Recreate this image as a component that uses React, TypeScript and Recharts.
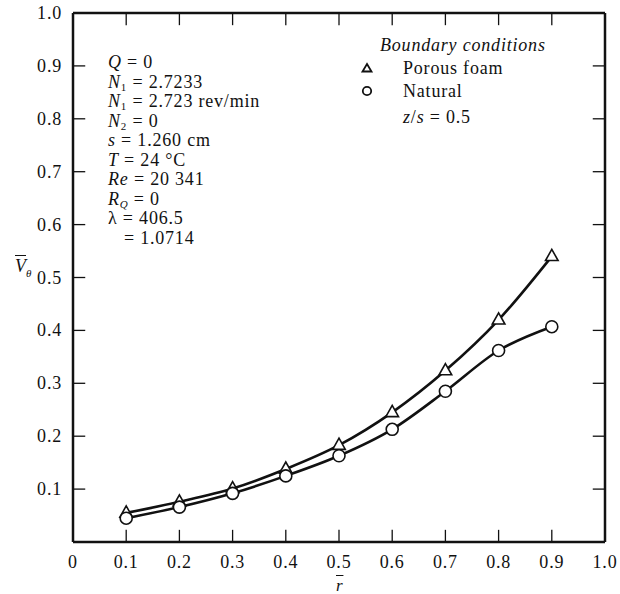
import { ComposedChart, Line, ReferenceLine, XAxis, YAxis } from "recharts";

const R = [0.1, 0.2, 0.3, 0.4, 0.5, 0.6, 0.7, 0.8, 0.9];
const FOAM = [0.055, 0.076, 0.101, 0.138, 0.183, 0.245, 0.324, 0.42, 0.54];
const NATURAL = [0.045, 0.066, 0.092, 0.125, 0.163, 0.213, 0.285, 0.362, 0.407];
const X_TICKS = [0, 0.1, 0.2, 0.3, 0.4, 0.5, 0.6, 0.7, 0.8, 0.9, 1.0];
const Y_TICKS = [0.1, 0.2, 0.3, 0.4, 0.5, 0.6, 0.7, 0.8, 0.9, 1.0];
const INNER_TICKS = [0.1, 0.2, 0.3, 0.4, 0.5, 0.6, 0.7, 0.8, 0.9];

const data = R.map((r, i) => ({ r, foam: FOAM[i], natural: NATURAL[i] }));

const FONT = "'Liberation Serif', 'DejaVu Serif', serif";
const INK = "#111";
// inward tick length, in axis units (about 12px on this plot)
const TICK_LEN = 0.023;

const fmt = (v: number) => v.toFixed(v === 0 ? 0 : 1);

function BottomLabel({ x, y, payload }: any) {
  return (
    <text x={x} y={y + 26} textAnchor="middle" fontFamily={FONT} fontSize={18} letterSpacing={0.8} fill={INK}>
      {fmt(payload.value)}
    </text>
  );
}

function LeftLabel({ x, y, payload }: any) {
  return (
    <text x={x - 11} y={y + 6} textAnchor="end" fontFamily={FONT} fontSize={18} letterSpacing={0.8} fill={INK}>
      {fmt(payload.value)}
    </text>
  );
}

function Triangle({ cx, cy }: any) {
  if (cx == null || cy == null) return <g />;
  const s = 7;
  return (
    <path
      d={`M${cx},${cy - s} L${cx + s * 0.9},${cy + s * 0.6} L${cx - s * 0.9},${cy + s * 0.6} Z`}
      fill="#fff"
      stroke={INK}
      strokeWidth={1.6}
    />
  );
}

function Circle({ cx, cy }: any) {
  if (cx == null || cy == null) return <g />;
  return <circle cx={cx} cy={cy} r={6} fill="#fff" stroke={INK} strokeWidth={1.6} />;
}

const Sub = ({ children }: any) => (
  <span style={{ fontSize: 11, position: "relative", top: 3, lineHeight: 0 }}>{children}</span>
);

const textBlock = [
  <><i>Q</i> = 0</>,
  <><i>N</i><Sub>1</Sub> = 2.7233</>,
  <><i>N</i><Sub>1</Sub> = 2.723 rev/min</>,
  <><i>N</i><Sub>2</Sub> = 0</>,
  <><i>s</i> = 1.260 cm</>,
  <><i>T</i> = 24 °C</>,
  <><i>Re</i> = 20 341</>,
  <><i>R</i><Sub><i>Q</i></Sub> = 0</>,
  <>λ = 406.5</>,
  <>&nbsp;&nbsp;&nbsp;= 1.0714</>,
];

const abs = (left: number, top: number): React.CSSProperties => ({
  position: "absolute",
  left,
  top,
  fontFamily: FONT,
  fontSize: 18,
  letterSpacing: 0.8,
  lineHeight: "20px",
  color: INK,
  whiteSpace: "nowrap",
});

const axisLine = { stroke: INK, strokeWidth: 2.5 };

export default function App() {
  return (
    <div style={{ position: "absolute", left: 0, top: 0, width: 620, height: 594, background: "#fff" }}>
      <ComposedChart
        width={620}
        height={594}
        data={data}
        margin={{ top: 12, right: 14, left: 0, bottom: 0 }}
      >
        <XAxis
          xAxisId="b"
          dataKey="r"
          type="number"
          domain={[0, 1]}
          ticks={X_TICKS}
          height={52}
          tickSize={0}
          tickMargin={0}
          tickLine={false}
          axisLine={axisLine}
          tick={(p: any) => <BottomLabel {...p} />}
        />
        <XAxis
          xAxisId="t"
          orientation="top"
          dataKey="r"
          type="number"
          domain={[0, 1]}
          height={1}
          tickLine={false}
          axisLine={axisLine}
          tick={false}
        />
        <YAxis
          yAxisId="l"
          type="number"
          domain={[0, 1]}
          ticks={Y_TICKS}
          width={73}
          tickSize={0}
          tickMargin={0}
          tickLine={false}
          axisLine={axisLine}
          tick={(p: any) => <LeftLabel {...p} />}
        />
        <YAxis
          yAxisId="rt"
          orientation="right"
          type="number"
          domain={[0, 1]}
          width={1}
          tickLine={false}
          axisLine={axisLine}
          tick={false}
        />
        <Line
          xAxisId="t"
          yAxisId="rt"
          dataKey="foam"
          stroke="none"
          dot={false}
          activeDot={false}
          isAnimationActive={false}
        />

        {/* inward ticks on all four sides */}
        {INNER_TICKS.map((v) => (
          <ReferenceLine
            key={`xb${v}`}
            xAxisId="b"
            yAxisId="l"
            segment={[{ x: v, y: 0 }, { x: v, y: TICK_LEN }]}
            stroke={INK}
            strokeWidth={1.3}
          />
        ))}
        {INNER_TICKS.map((v) => (
          <ReferenceLine
            key={`xt${v}`}
            xAxisId="b"
            yAxisId="l"
            segment={[{ x: v, y: 1 }, { x: v, y: 1 - TICK_LEN }]}
            stroke={INK}
            strokeWidth={1.3}
          />
        ))}
        {INNER_TICKS.map((v) => (
          <ReferenceLine
            key={`yl${v}`}
            xAxisId="b"
            yAxisId="l"
            segment={[{ x: 0, y: v }, { x: TICK_LEN, y: v }]}
            stroke={INK}
            strokeWidth={1.3}
          />
        ))}
        {INNER_TICKS.map((v) => (
          <ReferenceLine
            key={`yr${v}`}
            xAxisId="b"
            yAxisId="l"
            segment={[{ x: 1, y: v }, { x: 1 - TICK_LEN, y: v }]}
            stroke={INK}
            strokeWidth={1.3}
          />
        ))}

        <Line
          xAxisId="b"
          yAxisId="l"
          type="monotone"
          dataKey="foam"
          stroke={INK}
          strokeWidth={2.6}
          dot={(p: any) => <Triangle key={`t${p.index}`} {...p} />}
          activeDot={false}
          isAnimationActive={false}
        />
        <Line
          xAxisId="b"
          yAxisId="l"
          type="monotone"
          dataKey="natural"
          stroke={INK}
          strokeWidth={2.6}
          dot={(p: any) => <Circle key={`c${p.index}`} {...p} />}
          activeDot={false}
          isAnimationActive={false}
        />
      </ComposedChart>

      {textBlock.map((line, i) => (
        <div key={i} style={abs(108, 52 + i * 19.5)}>
          {line}
        </div>
      ))}

      <div style={{ ...abs(380, 35), fontStyle: "italic" }}>Boundary conditions</div>
      <div style={abs(403, 58)}>Porous foam</div>
      <div style={abs(403, 81)}>Natural</div>
      <div style={abs(403, 107)}>
        <i>z</i>/<i>s</i> = 0.5
      </div>
      <svg style={{ position: "absolute", left: 0, top: 0 }} width={620} height={594} pointerEvents="none">
        <path d="M367,64 L371.5,71.5 L362.5,71.5 Z" fill="none" stroke={INK} strokeWidth={1.8} />
        <circle cx={367} cy={91} r={4.2} fill="none" stroke={INK} strokeWidth={1.8} />
      </svg>

      <div style={{ ...abs(15, 256), fontSize: 18, letterSpacing: 0 }}>
        <i style={{ textDecoration: "overline" }}>V</i>
        <span style={{ fontStyle: "italic", fontSize: 11, position: "relative", top: 5 }}>θ</span>
      </div>
      <div style={{ ...abs(336, 576), fontSize: 17 }}>
        <i style={{ textDecoration: "overline" }}>r</i>
      </div>
    </div>
  );
}
